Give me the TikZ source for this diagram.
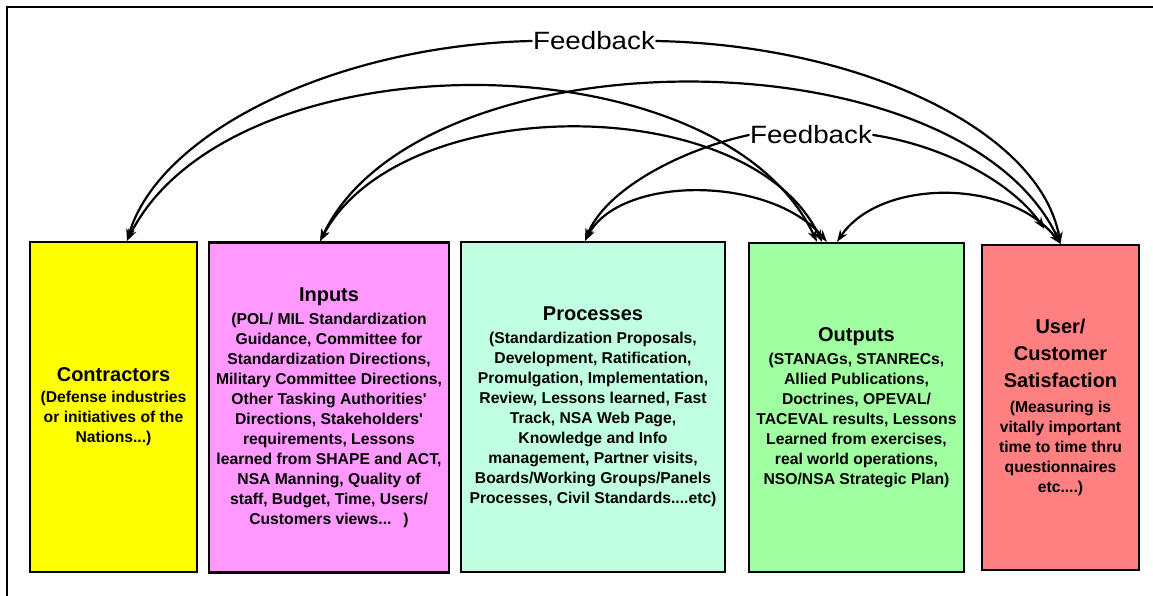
\documentclass[tikz,border=0pt]{standalone}
\usepackage{fontspec}
\setmainfont{Liberation Sans}
\newfontfamily\fbfont[FakeStretch=1.11]{Liberation Sans}
\usetikzlibrary{arrows.meta}
\definecolor{cyel}{HTML}{FFFF00}
\definecolor{cpink}{HTML}{FF99FF}
\definecolor{cmint}{HTML}{C0FFE0}
\definecolor{cgreen}{HTML}{A0FFA0}
\definecolor{cred}{HTML}{FF8080}
\newcommand\boxtitle[1]{{\fontsize{20}{20}\selectfont #1}}
\begin{document}
\begin{tikzpicture}[x=1pt,y=-1pt,
  box/.style={draw=black,line width=2.2pt,align=center,inner sep=0pt,
    font=\bfseries\fontsize{15.7}{20}\selectfont},
  fb/.style={font=\fbfont\fontsize{25}{25}\selectfont,inner sep=1pt},
  link/.style={line width=2.2pt,line cap=round},
  >={Stealth[length=12pt,width=8.5pt]}]
\useasboundingbox (0,0) rectangle (1153,595);
\draw[line width=2.5pt] (7,600) -- (7,7) -- (1160,7);

\node[box,fill=cyel,minimum width=167pt,minimum height=330pt] (c) at (113.5,407)
 {\boxtitle{Contractors}\\[1pt]
  (Defense industries\\or initiatives of the\\Nations...)};
\node[box,fill=cpink,minimum width=240pt,minimum height=330pt] (i) at (329,407.5)
 {\boxtitle{Inputs}\\[3pt]
  (POL/ MIL Standardization\\Guidance, Committee for\\Standardization Directions,\\
  Military Committee Directions,\\Other Tasking Authorities\textquotesingle\\
  Directions, Stakeholders\textquotesingle\\requirements, Lessons\\
  learned from SHAPE and ACT,\\NSA Manning, Quality of\\staff, Budget, Time, Users/\\
  Customers views...\hspace{12pt})};
\node[box,fill=cmint,minimum width=264pt,minimum height=330pt] (p) at (593,407)
 {\boxtitle{Processes}\\[3pt]
  (Standardization Proposals,\\Development, Ratification,\\Promulgation, Implementation,\\
  Review, Lessons learned, Fast\\Track, NSA Web Page,\\Knowledge and Info\\
  management, Partner visits,\\Boards/Working Groups/Panels\\Processes, Civil Standards....etc)};
\node[box,fill=cgreen,minimum width=215pt,minimum height=329pt] (o) at (856.5,407.5)
 {\boxtitle{Outputs}\\[3pt]
  (STANAGs, STANRECs,\\Allied Publications,\\Doctrines, OPEVAL/\\TACEVAL results, Lessons\\
  Learned from exercises,\\real world operations,\\NSO/NSA Strategic Plan)};
\node[box,fill=cred,minimum width=157pt,minimum height=325pt] (u) at (1060.5,407.5)
 {\boxtitle{User/}\\[7pt]\boxtitle{Customer}\\[7pt]\boxtitle{Satisfaction}\\[5pt]
  (Measuring is\\vitally important\\time to time thru\\questionnaires\\etc....)};

\node[fb] (fb1) at (594,41) {Feedback};
\node[fb] (fb2) at (811,135) {Feedback};

% top feedback arcs
\draw[link,->] (fb1.west) .. controls (340,45) and (160,130) .. ([xshift=13.5pt]c.north);
\draw[link,->] (fb1.east) .. controls (860,45) and (1040,130) .. (u.north);
% second feedback arcs
\draw[link,->] (fb2.west) .. controls (680,150) and (605,190) .. ([xshift=-8pt]p.north);
\draw[link,->] (fb2.east) .. controls (940,145) and (1010,180) .. ([xshift=-16pt,yshift=15pt]u.north);
% box to box arcs
\draw[link,<->] ([xshift=13.5pt]c.north) .. controls (230,35) and (720,35) .. ([xshift=-39.5pt]o.north);
\draw[link,<->] ([xshift=-9pt]i.north) .. controls (420,30) and (960,30) .. (u.north);
\draw[link,<->] ([xshift=-9pt]i.north) .. controls (400,90) and (750,90) .. ([xshift=-34.5pt]o.north);
\draw[link,<->] ([xshift=-8pt]p.north) .. controls (620,175) and (770,175) .. ([xshift=-29.5pt]o.north);
\draw[link,<->] ([xshift=-19.5pt]o.north) .. controls (880,178) and (1010,178) .. (u.north);
\end{tikzpicture}
\end{document}
